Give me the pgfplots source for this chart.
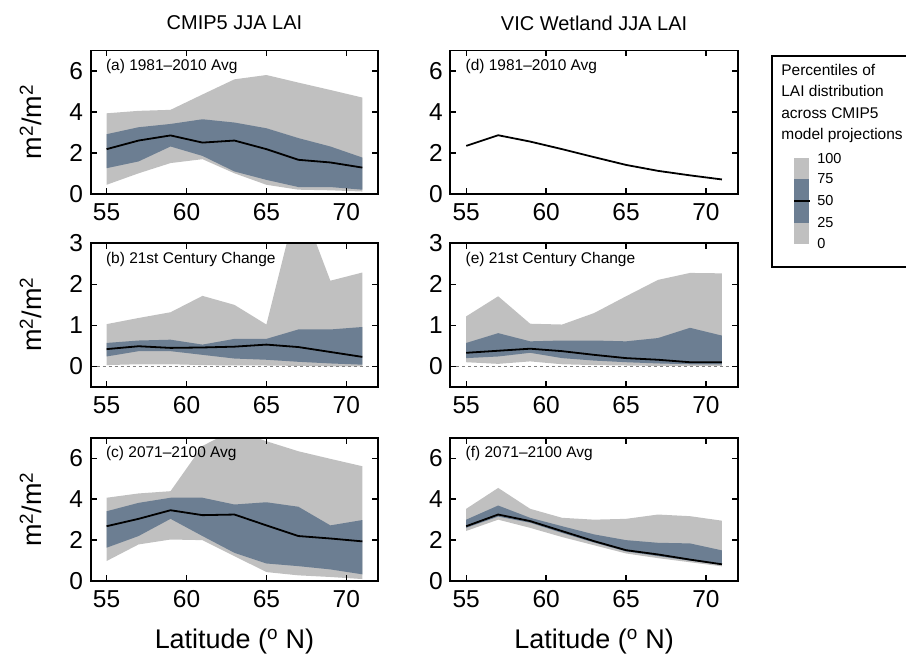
\documentclass[border=0pt]{standalone}
\usepackage{fontspec}
\setmainfont{Liberation Sans}
\usepackage{pgfplots}
\usepackage{pgfplotstable}
\pgfplotsset{compat=1.18}
\usepgfplotslibrary{fillbetween}

\definecolor{lgray}{RGB}{192,192,192}
\definecolor{slate}{RGB}{108,126,146}

% percentiles 0,25,50,75,100 across CMIP5 models
\pgfplotstableread{
lat p0 p25 p50 p75 p100
55 0.44 1.25 2.18 2.91 3.93
57 1.00 1.58 2.60 3.25 4.05
59 1.50 2.31 2.85 3.41 4.10
61 1.69 1.85 2.50 3.64 4.85
63 1.00 1.09 2.60 3.48 5.59
65 0.44 0.68 2.18 3.20 5.80
67 0.20 0.33 1.66 2.72 5.43
69 0.17 0.33 1.53 2.31 5.07
71 0.11 0.20 1.28 1.77 4.70
}\tabA
\pgfplotstableread{
lat p0 p25 p50 p75 p100
55 0.03 0.24 0.42 0.57 1.03
57 0.05 0.37 0.49 0.63 1.18
59 0.05 0.37 0.45 0.65 1.32
61 0.03 0.28 0.46 0.53 1.72
63 0.02 0.19 0.48 0.67 1.50
65 0.02 0.16 0.53 0.67 1.02
67 0.01 0.11 0.47 0.90 4.15
69 0.00 0.07 0.35 0.90 2.09
71 0.00 0.04 0.23 0.96 2.29
}\tabB
\pgfplotstableread{
lat p0 p25 p50 p75 p100
55 0.98 1.63 2.68 3.41 4.07
57 1.79 2.20 3.04 3.82 4.28
59 2.03 3.04 3.46 4.07 4.39
61 2.00 2.20 3.22 4.07 6.60
63 1.22 1.38 3.25 3.74 7.40
65 0.44 0.86 2.72 3.85 6.83
67 0.28 0.73 2.20 3.63 6.34
69 0.20 0.57 2.08 2.72 5.97
71 0.10 0.33 1.94 2.98 5.61
}\tabC
\pgfplotstableread{
lat p50
55 2.34
57 2.86
59 2.55
61 2.18
63 1.79
65 1.41
67 1.12
69 0.90
71 0.70
}\tabD
\pgfplotstableread{
lat p0 p25 p50 p75 p100
55 0.10 0.20 0.33 0.57 1.22
57 0.06 0.24 0.38 0.81 1.71
59 0.12 0.33 0.43 0.61 1.04
61 0.05 0.20 0.37 0.63 1.02
63 0.03 0.14 0.28 0.63 1.30
65 0.02 0.10 0.20 0.61 1.71
67 0.01 0.07 0.16 0.69 2.11
69 0.01 0.05 0.10 0.94 2.28
71 0.01 0.05 0.10 0.75 2.27
}\tabE
\pgfplotstableread{
lat p0 p25 p50 p75 p100
55 2.45 2.60 2.68 3.00 3.53
57 3.00 3.15 3.25 3.69 4.55
59 2.60 2.85 2.93 3.09 3.53
61 2.15 2.35 2.44 2.68 3.09
63 1.75 1.88 1.95 2.28 3.00
65 1.35 1.45 1.51 2.00 3.04
67 1.12 1.22 1.30 1.87 3.25
69 0.92 1.00 1.05 1.84 3.17
71 0.72 0.80 0.82 1.50 2.95
}\tabF

\pgfplotsset{
  panel/.style={scale only axis, width=288pt, height=143.5pt, anchor=south west,
    xmin=54, xmax=72, xtick={55,60,65,70}, axis on top,
    axis line style={line width=1.9pt}, major tick style={line width=1.4pt, black},
    major tick length=6pt,
    tick label style={font=\fontsize{24.5}{24.5}\selectfont},
    xticklabel style={yshift=-6pt}, yticklabel style={xshift=-4pt},
    /pgf/number format/assume math mode=true},
  sevenax/.style={ymin=0, ymax=7, ytick={0,2,4,6}},
  threeax/.style={ymin=-0.5, ymax=3, ytick={0,1,2,3}},
}
\newcommand{\plab}[1]{\node[anchor=west, inner sep=0pt, font=\fontsize{15.5}{15.5}\selectfont] at (rel axis cs:0.053,0.887) {#1};}
\newcommand{\bands}[1]{%
  \addplot[name path=lo, draw=none] table[x=lat,y=p0]{#1};
  \addplot[name path=hi, draw=none] table[x=lat,y=p100]{#1};
  \addplot[name path=qlo, draw=none] table[x=lat,y=p25]{#1};
  \addplot[name path=qhi, draw=none] table[x=lat,y=p75]{#1};
  \addplot[fill=lgray, draw=none] fill between[of=hi and lo];
  \addplot[fill=slate, draw=none] fill between[of=qhi and qlo];
}
\newcommand{\zeroline}{\addplot[gray, dashed, line width=0.6pt] coordinates {(54,0) (72,0)};}
\newcommand{\med}[1]{\addplot[black, line width=1.8pt] table[x=lat,y=p50]{#1};}

\begin{document}
\begin{tikzpicture}[x=1pt,y=1pt]
\path (0,0) rectangle (907,667);

\begin{axis}[panel, sevenax, at={(90.7pt,473pt)}]
\bands{\tabA}\med{\tabA}
\plab{(a) 1981--2010 Avg}
\end{axis}
\begin{axis}[panel, threeax, at={(90.7pt,279.8pt)}]
\bands{\tabB}\zeroline\med{\tabB}
\plab{(b) 21st Century Change}
\end{axis}
\begin{axis}[panel, sevenax, at={(90.7pt,85.3pt)}]
\bands{\tabC}\med{\tabC}
\plab{(c) 2071--2100 Avg}
\end{axis}

\begin{axis}[panel, sevenax, at={(450.7pt,473pt)}]
\med{\tabD}
\plab{(d) 1981--2010 Avg}
\end{axis}
\begin{axis}[panel, threeax, at={(450.7pt,279.8pt)}]
\bands{\tabE}\zeroline\med{\tabE}
\plab{(e) 21st Century Change}
\end{axis}
\begin{axis}[panel, sevenax, at={(450.7pt,85.3pt)}]
\bands{\tabF}\med{\tabF}
\plab{(f) 2071--2100 Avg}
\end{axis}

% titles and axis labels
\node[font=\fontsize{20}{20}\selectfont] at (234.7,644) {CMIP5 JJA LAI};
\node[font=\fontsize{20}{20}\selectfont] at (594.7,644) {VIC Wetland JJA LAI};
\foreach \yy in {545,352,157}
  \node[rotate=90, font=\fontsize{27}{27}\selectfont] at (31,\yy) {m\textsuperscript{2}/m\textsuperscript{2}};
\node[font=\fontsize{27}{27}\selectfont] at (234.7,25) {Latitude (\textsuperscript{o} N)};
\node[font=\fontsize{27}{27}\selectfont] at (594.7,25) {Latitude (\textsuperscript{o} N)};

% legend (box runs off the right edge, as in the original)
\draw[line width=1.9pt] (907,400) -- (773,400) -- (773,611) -- (907,611);
\begin{scope}[font=\fontsize{15.5}{15.5}\selectfont]
\node[anchor=base west, inner sep=0pt] at (782,591) {Percentiles of};
\node[anchor=base west, inner sep=0pt] at (782,570) {LAI distribution};
\node[anchor=base west, inner sep=0pt] at (782,548) {across CMIP5};
\node[anchor=base west, inner sep=0pt] at (782,527) {model projections};
\end{scope}
\fill[lgray] (795,423) rectangle (810,509.3);
\fill[slate] (795,443.7) rectangle (810,487.7);
\draw[black, line width=1.8pt] (795,465.5) -- (811,465.5);
\begin{scope}[font=\fontsize{14.5}{14.5}\selectfont]
\node[anchor=west, inner sep=0pt] at (818,508) {100};
\node[anchor=west, inner sep=0pt] at (818,488) {75};
\node[anchor=west, inner sep=0pt] at (818,466) {50};
\node[anchor=west, inner sep=0pt] at (818,444) {25};
\node[anchor=west, inner sep=0pt] at (818,423) {0};
\end{scope}
\end{tikzpicture}
\end{document}
